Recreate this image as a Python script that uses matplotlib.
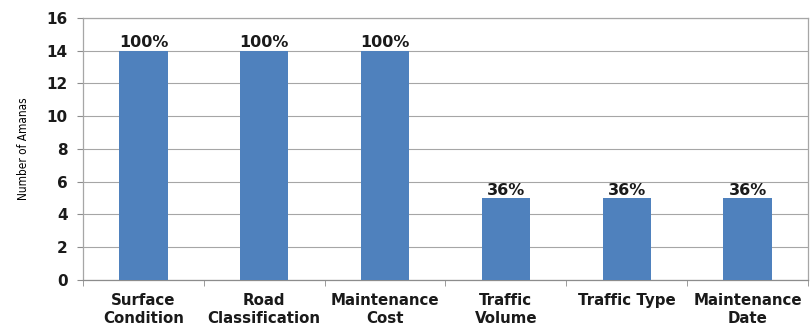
import numpy as np
import matplotlib
matplotlib.use('Agg')
import matplotlib.pyplot as plt

categories = ['Surface\nCondition', 'Road\nClassification', 'Maintenance\nCost',
              'Traffic\nVolume', 'Traffic Type', 'Maintenance\nDate']
counts = [14, 14, 14, 5, 5, 5]
pct_labels = ['100%', '100%', '100%', '36%', '36%', '36%']

fig = plt.figure(figsize=(8.11, 3.28), dpi=100)
ax = fig.add_axes([0.1023, 0.1463, 0.894, 0.799])

x = np.arange(len(categories))
bars = ax.bar(x, counts, width=0.4, color='#4F81BD', zorder=3)

for xi, c, lab in zip(x, counts, pct_labels):
    ax.text(xi, c + 0.02, lab, ha='center', va='bottom', fontsize=11.5,
            fontweight='bold', color='#1a1a1a')

ax.set_xlim(-0.5, len(categories) - 0.5)
ax.set_ylim(0, 16)
ax.set_yticks(range(0, 17, 2))
ax.yaxis.grid(True, color='#a6a6a6', linewidth=0.8, zorder=0)
for s in ax.spines.values():
    s.set_color('#a6a6a6')
    s.set_linewidth(0.9)
ax.spines['bottom'].set_color('#8c8c8c')

ax.set_xticks(x)
ax.set_xticklabels(categories, fontsize=10.8, fontweight='bold', color='#1a1a1a',
                   linespacing=1.3)
ax.tick_params(axis='x', length=0, pad=9)
ax.set_xticks(np.arange(-0.5, len(categories)), minor=True)
ax.tick_params(axis='x', which='minor', length=4, color='#8c8c8c')
ax.tick_params(axis='y', length=4, color='#8c8c8c', labelsize=11, pad=7)
for t in ax.get_yticklabels():
    t.set_fontweight('bold')
    t.set_color('#1a1a1a')

ax.set_ylabel('Number of Amanas', fontsize=8.5, stretch='condensed',
              family=['Liberation Sans Narrow', 'DejaVu Sans'], labelpad=12)

plt.savefig('out.png', dpi=100)
